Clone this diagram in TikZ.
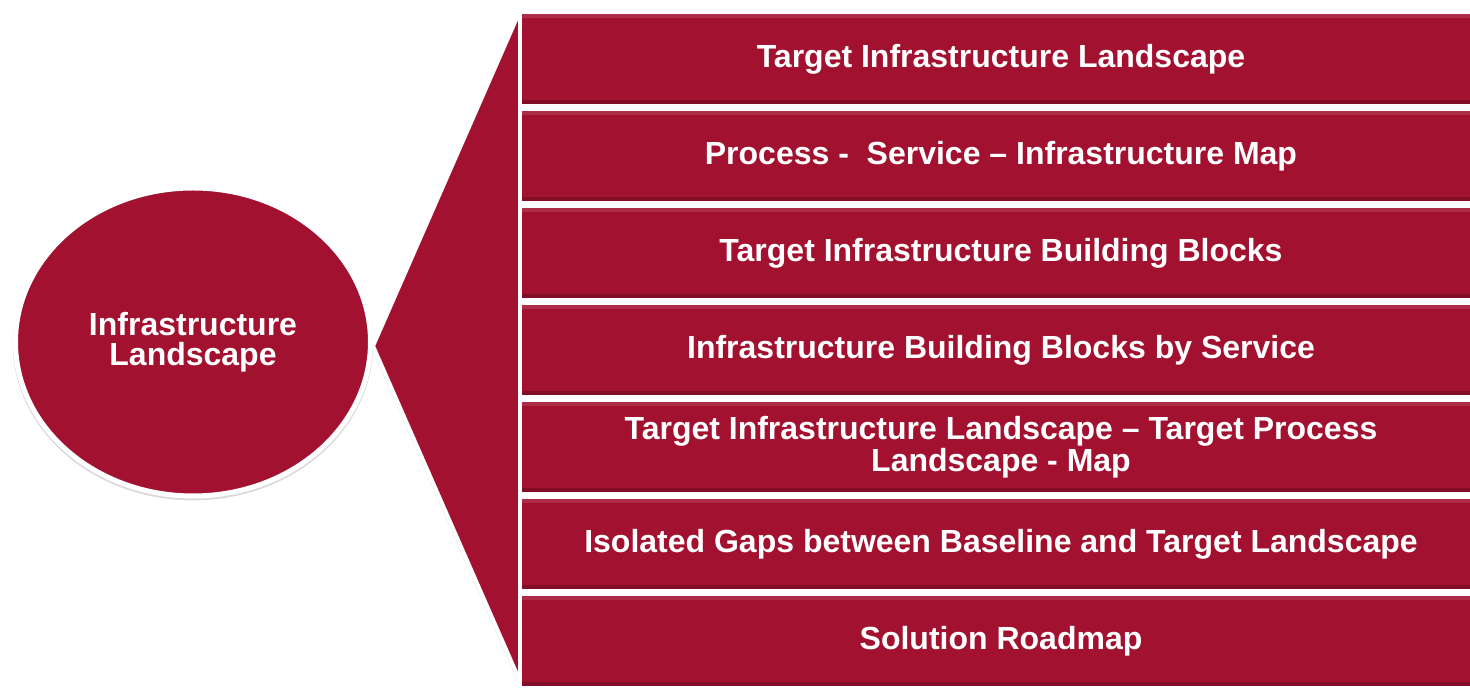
\documentclass[tikz,border=0pt]{standalone}
\usepackage{fontspec}
\setmainfont{Liberation Sans}
\usetikzlibrary{shapes.geometric,shadows}

\definecolor{wine}{RGB}{162,17,48}

\begin{document}
\begin{tikzpicture}[x=0.5pt,y=0.5pt,
    hub/.style={ellipse,draw=white,fill=wine,line width=2.5pt,
      minimum width=177.5pt,minimum height=154pt,inner sep=0pt,
      text=white,font=\fontsize{16}{15}\selectfont\bfseries,align=center,
      drop shadow={shadow scale=1.015,shadow xshift=0pt,shadow yshift=-1pt,opacity=0.3}},
    itembox/.style={rectangle,draw=white,fill=wine,line width=1.75pt,
      minimum width=481pt,minimum height=47pt,inner sep=0pt,
      text=white,font=\fontsize{16}{15}\selectfont\bfseries,align=center,
      drop shadow={shadow xshift=0pt,shadow yshift=-0.8pt,opacity=0.18},
      path picture={
        \fill[white,opacity=0.12] (path picture bounding box.north west)
          rectangle ([yshift=-3pt]path picture bounding box.north east);
        \fill[black,opacity=0.2] (path picture bounding box.south west)
          rectangle ([yshift=3pt]path picture bounding box.south east);}},
    fan/.style={draw=white,fill=wine,line width=2pt,line join=round}]

\useasboundingbox (0,0) rectangle (1470,690);
\clip (0,0) rectangle (1470,690);

% Fan behind the list
\coordinate (tip) at (373,344);
\coordinate (ftop) at (522,684);
\coordinate (fbot) at (522,4);
\draw[fan,drop shadow={shadow xshift=-1pt,shadow yshift=-0.5pt,opacity=0.3}]
  (tip) -- (ftop) -- (fbot) -- cycle;

% Central topic
\node[hub] (hub) at (193,348) {Infrastructure\\Landscape};

% List of deliverables
\node[itembox] (b1) at (1001,631) {Target Infrastructure Landscape};
\node[itembox] (b2) at (1001,534) {Process -\ \ Service -- Infrastructure Map};
\node[itembox] (b3) at (1001,437) {Target Infrastructure Building Blocks};
\node[itembox] (b4) at (1001,340) {Infrastructure Building Blocks by Service};
\node[itembox] (b5) at (1001,243) {Target Infrastructure Landscape -- Target Process\\[1pt]Landscape - Map};
\node[itembox] (b6) at (1001,146) {Isolated Gaps between Baseline and Target Landscape};
\node[itembox] (b7) at (1001,49) {Solution Roadmap};

\end{tikzpicture}
\end{document}
